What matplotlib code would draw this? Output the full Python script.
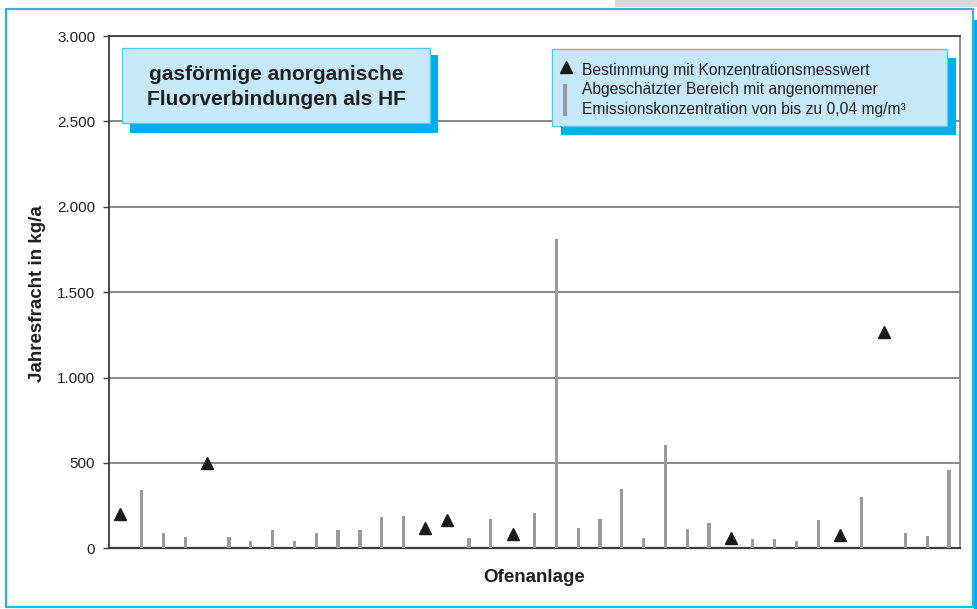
import numpy as np
import matplotlib
matplotlib.use("Agg")
import matplotlib.pyplot as plt
from matplotlib.patches import Rectangle

plt.rcParams['font.family'] = ['Liberation Sans', 'DejaVu Sans']

# ---- data ----
plants = list(range(1, 40))
# estimated range (upper bound, kg/a); NaN where a measured value exists
range_upper = [np.nan, 340, 92, 65, np.nan, 65, 40, 110, 40, 88,
               105, 105, 186, 192, np.nan, np.nan, 62, 170, np.nan, 205,
               1810, 121, 170, 350, 58, 602, 111, 151, np.nan, 53,
               53, 45, 165, np.nan, 303, np.nan, 92, 70, 460]
# measured annual load (kg/a); NaN where only an estimated range exists
measured = [198, np.nan, np.nan, np.nan, 500, np.nan, np.nan, np.nan, np.nan, np.nan,
            np.nan, np.nan, np.nan, np.nan, 120, 167, np.nan, np.nan, 85, np.nan,
            np.nan, np.nan, np.nan, np.nan, np.nan, np.nan, np.nan, np.nan, 62, np.nan,
            np.nan, np.nan, np.nan, 78, np.nan, 1268, np.nan, np.nan, np.nan]
yticks = [0, 500, 1000, 1500, 2000, 2500, 3000]
ytick_labels = ["0", "500", "1.000", "1.500", "2.000", "2.500", "3.000"]

title_lines = "gasförmige anorganische\nFluorverbindungen als HF"
legend_lines = ["Bestimmung mit Konzentrationsmesswert",
                "Abgeschätzter Bereich mit angenommener",
                "Emissionskonzentration von bis zu 0,04 mg/m³"]

W, H = 978, 609
fig = plt.figure(figsize=(W / 100, H / 100), dpi=100)
fig.patch.set_facecolor('white')

def fx(px):
    return px / W

def fy(py):
    return 1 - py / H

TXT = '#231F20'
BLUE = '#00AEEF'
LIGHT = '#C6E9F9'
EDGE = '#5AC8F0'
BARC = '#9B9B9B'

# frame decorations
fig.add_artist(Rectangle((fx(615), fy(7)), fx(978) - fx(615), 7 / H,
                         transform=fig.transFigure, facecolor='#D9D9D9',
                         edgecolor='none', zorder=0))
fig.add_artist(Rectangle((fx(6.5), fy(606.5)), (973.5 - 6.5) / W, (606.5 - 8.5) / H,
                         transform=fig.transFigure, facecolor='none',
                         edgecolor='#29B3E8', lw=1.6, zorder=1))
fig.add_artist(Rectangle((fx(974.5), fy(609)), 4 / W, (609 - 20) / H,
                         transform=fig.transFigure, facecolor=BLUE,
                         edgecolor='none', zorder=1))

# axes
left, right, top, bottom = 109, 960, 36, 548.3
ax = fig.add_axes([fx(left), fy(bottom), (right - left) / W, (bottom - top) / H])
ax.set_facecolor('none')

ax.bar(plants, range_upper, width=0.15, color=BARC, zorder=3)
ax.plot(plants, measured, linestyle='none', marker='^', color='#1A1A1A',
        markersize=8.5, zorder=4)

ax.set_xlim(0.5, 39.5)
ax.set_ylim(0, 3000)
ax.set_yticks(yticks)
ax.set_yticklabels(ytick_labels)
ax.set_xticks([])
ax.yaxis.grid(True, color='#7F7F7F', lw=1.3, zorder=1)
ax.set_axisbelow(True)
ax.tick_params(axis='y', length=4, width=1.0, color='#404040', pad=6,
               labelsize=11, labelcolor=TXT)

for s in ['left', 'bottom', 'top']:
    ax.spines[s].set_color('#3C3C3C')
    ax.spines[s].set_linewidth(1.3)
ax.spines['right'].set_color('#8C8C8C')
ax.spines['right'].set_linewidth(1.3)
ax.spines['bottom'].set_linewidth(1.6)

fig.text(fx(38), fy(294), "Jahresfracht in kg/a", rotation=90, ha='center',
         va='center', fontsize=13.5, fontweight='bold', color=TXT)
fig.text(fx(534.5), fy(578), "Ofenanlage", ha='center', va='center',
         fontsize=13.5, fontweight='bold', color=TXT)

# title box
fig.add_artist(Rectangle((fx(129.5), fy(133)), (438 - 129.5) / W, (133 - 55) / H,
                         transform=fig.transFigure, facecolor=BLUE,
                         edgecolor='none', zorder=5))
fig.add_artist(Rectangle((fx(122), fy(123.3)), (430 - 122) / W, (123.3 - 48.3) / H,
                         transform=fig.transFigure, facecolor=LIGHT,
                         edgecolor=EDGE, lw=1.0, zorder=6))
fig.text(fx(276), fy(87), title_lines, ha='center', va='center', fontsize=15,
         fontweight='bold', color=TXT, linespacing=1.45, zorder=7)

# legend box
fig.add_artist(Rectangle((fx(561), fy(135)), (956 - 561) / W, (135 - 58) / H,
                         transform=fig.transFigure, facecolor=BLUE,
                         edgecolor='none', zorder=5))
fig.add_artist(Rectangle((fx(552.3), fy(126)), (947.3 - 552.3) / W, (126 - 49.3) / H,
                         transform=fig.transFigure, facecolor=LIGHT,
                         edgecolor=EDGE, lw=1.0, zorder=6))
fig.add_artist(plt.Line2D([fx(566)], [fy(67)], marker='^', color='#1A1A1A',
                          markersize=8.5, linestyle='none',
                          transform=fig.transFigure, zorder=7))
fig.add_artist(plt.Line2D([fx(565), fx(565)], [fy(83.5), fy(116)], color=BARC,
                          lw=3.0, transform=fig.transFigure, zorder=7,
                          solid_capstyle='butt'))
for i, line in enumerate(legend_lines):
    fig.text(fx(581.5), fy(70.7 + i * 19.2), line, ha='left', va='center',
             fontsize=11.25, color=TXT, zorder=7)

fig.savefig('out.png', dpi=100)
